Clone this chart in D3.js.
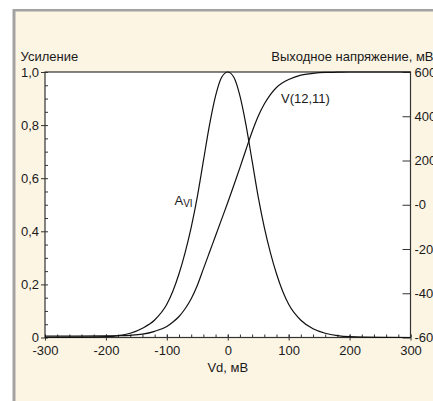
<!DOCTYPE html>
<html>
<head>
<meta charset="utf-8">
<script src="https://cdn.jsdelivr.net/npm/d3@7"></script>
<style>
  body { margin: 0; background: #fff; }
  svg text { font-family: "Liberation Sans", Arial, sans-serif; font-size: 13px; fill: #1a1a1a; }
</style>
</head>
<body>
<div id="chart"></div>
<script>
// differential input voltage, mV
var vd = [-300, -250, -200, -180, -160, -140, -120, -100, -90, -80, -70, -60, -50, -40, -30, -20, -10,
  0, 10, 20, 30, 40, 50, 60, 70, 80, 90, 100, 120, 140, 160, 180, 200, 250, 300];
// gain A_VI (left axis)
var gain = [0, 0.0005, 0.003, 0.007, 0.016, 0.035, 0.066, 0.125, 0.175, 0.24, 0.32, 0.415, 0.53, 0.665, 0.80, 0.91, 0.98,
  1.0, 0.98, 0.91, 0.80, 0.665, 0.53, 0.415, 0.32, 0.24, 0.175, 0.125, 0.065, 0.033, 0.016, 0.007, 0.003, 0.0005, 0];
// output voltage V(12,11), mV (right axis)
var vout = [-594, -594, -593, -592, -590, -585, -572, -550, -530, -505, -470, -425, -365, -290, -215, -140, -65,
  10, 88, 168, 250, 330, 400, 455, 498, 530, 551, 566, 586, 594, 598, 599, 600, 600, 600];

var xTicks = [-300, -200, -100, 0, 100, 200, 300];
var xTickLabels = ["-300", "-200", "-100", "0", "100", "200", "300"];
var leftTicks = [0, 0.2, 0.4, 0.6, 0.8, 1.0];
var leftTickLabels = ["0", "0,2", "0,4", "0,6", "0,8", "1,0"];
var rightTicks = [-600, -400, -200, 0, 200, 400, 600];
var rightTickLabels = ["-600", "-400", "-200", "-0", "200", "400", "600"];

var W = 433, H = 401;
var svg = d3.select("#chart").append("svg").attr("width", W).attr("height", H);

// beige panel with grey top/left border
svg.append("rect").attr("x", 12.5).attr("y", 9).attr("width", W).attr("height", H).attr("fill", "#a3a3a3");
svg.append("rect").attr("x", 15.5).attr("y", 11.5).attr("width", W).attr("height", H).attr("fill", "#fdf5e4");

var x = d3.scaleLinear().domain([-300, 300]).range([45, 410.5]);
var yL = d3.scaleLinear().domain([0, 1]).range([337.5, 72]);
var yR = d3.scaleLinear().domain([-600, 600]).range([337.5, 72]);

svg.append("rect")
  .attr("x", x(-300)).attr("y", yL(1))
  .attr("width", x(300) - x(-300)).attr("height", yL(0) - yL(1))
  .attr("fill", "#fff");

function styleAxis(g) {
  g.select(".domain").remove();
  g.selectAll(".tick line").attr("stroke", "#333");
}

// minor ticks
svg.append("g").attr("transform", "translate(" + x(-300) + ",0)")
  .call(d3.axisLeft(yL).tickValues(d3.range(0, 1.001, 0.05)).tickSize(-3).tickFormat(""))
  .call(styleAxis);
svg.append("g").attr("transform", "translate(0," + yL(0) + ")")
  .call(d3.axisBottom(x).tickValues(d3.range(-300, 301, 20)).tickSize(-3).tickFormat(""))
  .call(styleAxis);

// major ticks
svg.append("g").attr("transform", "translate(" + x(-300) + ",0)")
  .call(d3.axisLeft(yL).tickValues(leftTicks).tickSize(4).tickPadding(2)
    .tickFormat(function(d, i) { return leftTickLabels[i]; }))
  .call(styleAxis);

var gx = svg.append("g").attr("transform", "translate(0," + yL(0) + ")")
  .call(d3.axisBottom(x).tickValues(xTicks).tickSize(3).tickPadding(5)
    .tickFormat(function(d, i) { return xTickLabels[i]; }))
  .call(styleAxis);
gx.selectAll(".tick line").attr("y1", -3);
gx.selectAll(".tick text").attr("dy", "0.71em");

svg.append("g").attr("transform", "translate(" + x(300) + ",0)")
  .call(d3.axisRight(yR).tickValues(rightTicks).tickSize(-8).tickPadding(4)
    .tickFormat(function(d, i) { return rightTickLabels[i]; }))
  .call(styleAxis);

// frame
svg.append("rect")
  .attr("x", x(-300)).attr("y", yL(1))
  .attr("width", x(300) - x(-300)).attr("height", yL(0) - yL(1))
  .attr("fill", "none").attr("stroke", "#333").attr("stroke-width", 1.2);

// curves
var lineA = d3.line().x(function(d, i) { return x(vd[i]); }).y(function(d) { return yL(d); })
  .curve(d3.curveMonotoneX);
var lineV = d3.line().x(function(d, i) { return x(vd[i]); }).y(function(d) { return yR(d); })
  .curve(d3.curveMonotoneX);

svg.append("path").attr("d", lineA(gain)).attr("fill", "none").attr("stroke", "#111").attr("stroke-width", 1.2);
svg.append("path").attr("d", lineV(vout)).attr("fill", "none").attr("stroke", "#111").attr("stroke-width", 1.2);

// labels
svg.append("text").attr("x", 20.5).attr("y", 60.5).text("Усиление");
svg.append("text").attr("x", 433.5).attr("y", 60.5).attr("text-anchor", "end").text("Выходное напряжение, мВ");
svg.append("text").attr("x", x(0)).attr("y", 371.5).attr("text-anchor", "middle").text("Vd, мВ");

var aLabel = svg.append("text").attr("x", 174.5).attr("y", 205);
aLabel.append("tspan").text("A");
aLabel.append("tspan").attr("dy", 2).style("font-size", "10px").text("VI");

svg.append("text").attr("x", 281).attr("y", 103).text("V(12,11)");
</script>
</body>
</html>
